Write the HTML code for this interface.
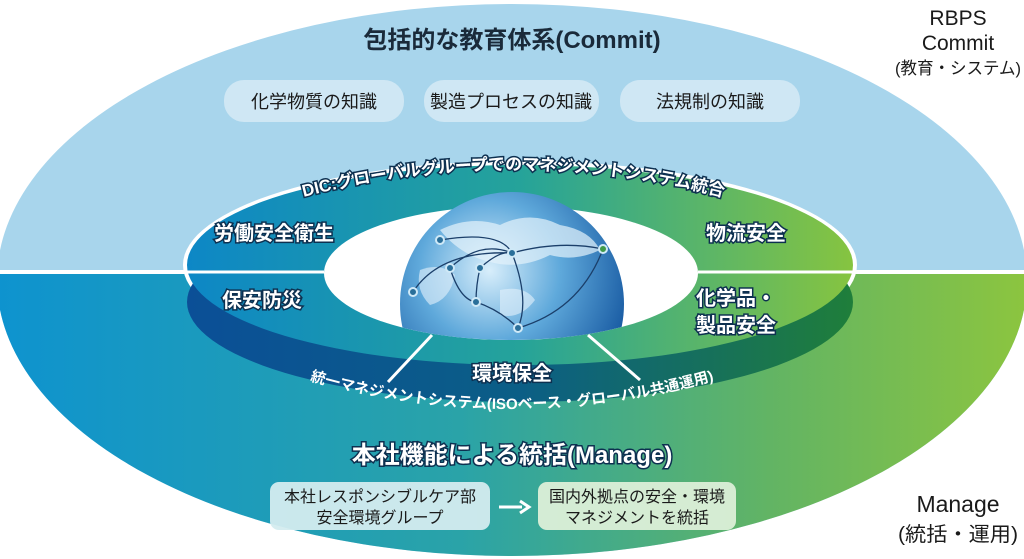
<!DOCTYPE html>
<html><head><meta charset="utf-8"><style>
html,body{margin:0;padding:0;background:#fff;}
svg{display:block;}
text{font-family:"Liberation Sans","Noto Sans CJK JP",sans-serif;}
</style></head><body>
<svg width="1024" height="559" viewBox="0 0 1024 559" xmlns="http://www.w3.org/2000/svg">
<defs>
<linearGradient id="bot" x1="0" y1="0" x2="1" y2="0">
<stop offset="0" stop-color="#0e93cf"/><stop offset="0.45" stop-color="#2aa3a8"/><stop offset="0.75" stop-color="#62b464"/><stop offset="1" stop-color="#8cc53f"/></linearGradient>
<linearGradient id="ring" x1="0" y1="0" x2="1" y2="0">
<stop offset="0" stop-color="#0d87c6"/><stop offset="0.5" stop-color="#25a39a"/><stop offset="1" stop-color="#86c440"/></linearGradient>
<linearGradient id="side" x1="0" y1="0" x2="1" y2="0">
<stop offset="0" stop-color="#0b4f97"/><stop offset="0.5" stop-color="#0b5e86"/><stop offset="1" stop-color="#1f7e3a"/></linearGradient>
<radialGradient id="globe" cx="0.4" cy="0.35" r="0.7">
<stop offset="0" stop-color="#d8eefb"/><stop offset="0.45" stop-color="#5fa9db"/><stop offset="1" stop-color="#0e4f9a"/></radialGradient>
<clipPath id="gclip"><rect x="0" y="0" width="1024" height="275"/><ellipse cx="511" cy="273" rx="187" ry="67"/></clipPath>
<clipPath id="lower"><rect x="0" y="272" width="1024" height="300"/></clipPath>
<path id="arcTop" d="M 292 200 Q 512 140 735 200"/>
<path id="arcBot" d="M 282 372 Q 510 446 742 372"/>
</defs>
<ellipse cx="512" cy="280" rx="515" ry="276" fill="#a8d5ec"/>
<ellipse cx="512" cy="280" rx="515" ry="276" fill="url(#bot)" clip-path="url(#lower)"/>
<rect x="0" y="270" width="1024" height="4" fill="#fff"/>
<text x="512" y="48" font-size="24" text-anchor="middle" fill="#1a2a3a" font-weight="bold">包括的な教育体系(Commit)</text>
<text x="958" y="25" font-size="21" text-anchor="middle" fill="#1a1a1a">RBPS</text>
<text x="958" y="50" font-size="21" text-anchor="middle" fill="#1a1a1a">Commit</text>
<text x="958" y="74" font-size="17" text-anchor="middle" fill="#1a1a1a" textLength="126" lengthAdjust="spacingAndGlyphs">(教育・システム)</text>
<rect x="224" y="80" width="180" height="42" rx="20" fill="#cfe7f4"/>
<rect x="424" y="80" width="175" height="42" rx="20" fill="#cfe7f4"/>
<rect x="620" y="80" width="180" height="42" rx="20" fill="#cfe7f4"/>
<text x="314" y="108" font-size="18" text-anchor="middle" fill="#1a1a1a">化学物質の知識</text>
<text x="511" y="108" font-size="18" text-anchor="middle" fill="#1a1a1a">製造プロセスの知識</text>
<text x="710" y="108" font-size="18" text-anchor="middle" fill="#1a1a1a">法規制の知識</text>
<ellipse cx="520" cy="265" rx="337" ry="104" fill="#fff"/>
<ellipse cx="520" cy="302" rx="333" ry="100" fill="url(#side)"/>
<ellipse cx="520" cy="265" rx="333" ry="100" fill="url(#ring)"/>
<ellipse cx="511" cy="273" rx="187" ry="67" fill="#fff"/>
<line x1="187" y1="272" x2="324" y2="272" stroke="#fff" stroke-width="3"/>
<line x1="698" y1="272" x2="853" y2="272" stroke="#fff" stroke-width="3"/>
<line x1="432" y1="335" x2="388" y2="382" stroke="#fff" stroke-width="3"/>
<line x1="588" y1="335" x2="640" y2="380" stroke="#fff" stroke-width="3"/>
<g clip-path="url(#gclip)">
<circle cx="512" cy="304" r="112" fill="url(#globe)"/>
<path d="M 440 230 Q 470 215 500 225 Q 530 210 560 225 Q 590 230 600 250 Q 575 262 550 255 Q 520 270 490 262 Q 460 255 440 230 Z" fill="#e4f2fb" opacity="0.7"/>
<path d="M 420 270 Q 440 262 455 275 Q 450 300 430 305 Q 415 290 420 270 Z" fill="#e4f2fb" opacity="0.6"/>
<path d="M 500 290 Q 525 285 535 300 Q 520 320 500 315 Z" fill="#e4f2fb" opacity="0.6"/>
<g fill="none" stroke="#1b3f6a" stroke-width="1.3">
<path d="M 440 240 Q 500 230 512 253"/><path d="M 413 292 Q 440 250 512 253"/><path d="M 450 268 Q 480 240 512 253"/><path d="M 480 268 Q 500 250 512 253"/>
<path d="M 512 253 Q 560 240 603 249"/><path d="M 512 253 Q 530 300 518 328"/><path d="M 603 249 Q 580 310 518 328"/>
<path d="M 450 268 Q 460 300 476 302"/><path d="M 476 302 Q 500 310 518 328"/><path d="M 480 268 Q 476 285 476 302"/></g>
<g fill="#2a6f9a" stroke="#cfe9f7" stroke-width="2">
<circle cx="440" cy="240" r="4"/><circle cx="512" cy="253" r="4"/><circle cx="450" cy="268" r="4"/><circle cx="480" cy="268" r="4"/><circle cx="413" cy="292" r="4"/><circle cx="476" cy="302" r="4"/><circle cx="518" cy="328" r="4"/><circle cx="603" cy="249" r="4" fill="#3f9a4a"/></g>
</g>
<g font-size="20" font-weight="bold" fill="#fff" stroke="#0d3050" stroke-width="3" paint-order="stroke" text-anchor="middle">
<text x="274" y="240">労働安全衛生</text>
<text x="746" y="240">物流安全</text>
<text x="262" y="307">保安防災</text>
<text x="736" y="305">化学品・</text>
<text x="736" y="332">製品安全</text>
<text x="512" y="380">環境保全</text>
</g>
<text font-size="17" font-weight="bold" fill="#fff" stroke="#0d3050" stroke-width="3" paint-order="stroke" text-anchor="middle"><textPath href="#arcTop" startOffset="50%">DIC:グローバルグループでのマネジメントシステム統合</textPath></text>
<text font-size="15" font-weight="bold" fill="#fff" text-anchor="middle"><textPath href="#arcBot" startOffset="50%">統一マネジメントシステム(ISOベース・グローバル共通運用)</textPath></text>
<text x="512" y="463" font-size="24" font-weight="bold" text-anchor="middle" fill="#fff" stroke="#0d3050" stroke-width="3" paint-order="stroke">本社機能による統括(Manage)</text>
<rect x="270" y="482" width="220" height="48" rx="9" fill="#d4ecef" opacity="0.95"/>
<rect x="538" y="482" width="198" height="48" rx="9" fill="#dcefd8" opacity="0.95"/>
<text x="380" y="502" font-size="16" text-anchor="middle" fill="#1a1a1a">本社レスポンシブルケア部</text>
<text x="380" y="523" font-size="16" text-anchor="middle" fill="#1a1a1a">安全環境グループ</text>
<text x="637" y="502" font-size="16" text-anchor="middle" fill="#1a1a1a">国内外拠点の安全・環境</text>
<text x="637" y="523" font-size="16" text-anchor="middle" fill="#1a1a1a">マネジメントを統括</text>
<line x1="499" y1="507" x2="522" y2="507" stroke="#fff" stroke-width="3"/>
<path d="M 520 501 L 529 507 L 520 513" fill="none" stroke="#fff" stroke-width="3"/>
<text x="958" y="512" font-size="23" text-anchor="middle" fill="#1a1a1a">Manage</text>
<text x="958" y="541" font-size="20" text-anchor="middle" fill="#1a1a1a" textLength="120" lengthAdjust="spacingAndGlyphs">(統括・運用)</text>
</svg>
</body></html>
